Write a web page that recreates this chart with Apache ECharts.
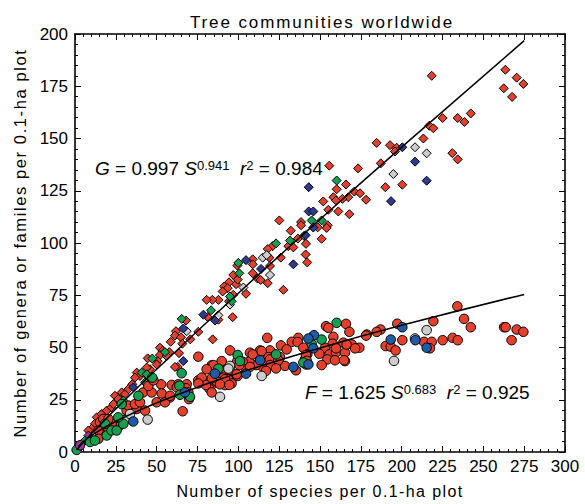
<!DOCTYPE html>
<html><head><meta charset="utf-8">
<script src="https://cdn.jsdelivr.net/npm/echarts@6/dist/echarts.min.js"></script>
<style>html,body{margin:0;padding:0;background:#fff}#c{width:585px;height:504px}</style>
</head><body><div id="c"></div>
<script>
// ---- data ----
var xTicks = [0,25,50,75,100,125,150,175,200,225,250,275,300];
var yTicks = [0,25,50,75,100,125,150,175,200];

// Genera (diamonds)
var genRed = [[218.4,180.0],[263.5,182.9],[270.4,179.1],[274.5,176.1],[262.5,174.0],[267.6,169.9],[242.3,162.0],[225.1,159.8],[234.3,159.8],[238.4,157.9],[216.9,156.1],[219.4,154.9],[213.3,150.0],[231.0,143.0],[234.3,140.0],[200.4,127.9],
[184.7,147.9],[192.9,146.8],[196.9,145.6],[195.9,143.8],[155.7,137.0],[173.3,135.7],[187.2,138.1],[190.0,126.7],[165.9,128.0],[160.2,125.7],[171.0,124.6],[174.5,123.8],[167.3,121.9],[158.2,121.9],[163.7,121.1],[159.8,120.3],[178.2,120.7],[152.0,119.9],[155.1,115.9],[161.2,115.1],[168.0,113.8],[125.1,110.8],[138.4,110.0],[148.6,107.5],[154.7,108.5],[154.1,107.2],[138.4,108.5],[132.1,105.9],[136.5,102.1],[151.0,102.0],[121.0,98.5],[130.6,98.5],[141.4,99.6],[133.7,97.9],[118.0,97.1],[119.0,93.0],[126.0,93.0],[141.2,94.5],[108.8,92.2],[108.8,89.8],[99.4,89.2],[142.2,90.7],[119.4,89.0],[108.8,85.5],[96.9,84.7],[111.6,83.1],[113.7,82.3],[118.0,80.8],[98.6,80.3],[104.7,75.7],[127.6,77.6],[96.9,75.2],[96.5,64.5],
[99.6,82.5],[94.3,81.2],[91.4,79.2],[93.5,78.4],[90.4,76.8],[94.3,72.1],[87.8,72.8],[84.1,72.8],[80.6,72.8],[81.2,64.6],[87.8,63.3],[68.0,62.9],[75.5,57.5],[84.3,53.9],[61.8,57.8],[61.2,55.7],[64.9,54.9],[70.6,53.9],[58.6,52.7],[65.7,51.8],[52.0,49.9],[53.5,48.3],[57.7,47.8],[63.7,47.3],[52.0,46.4],[56.1,45.9],[44.5,44.8],[50.6,43.5],[50.0,41.9],[62.9,40.7],[61.2,40.7],[45.9,39.6],[43.9,40.4],[37.8,38.0],[39.8,36.4],[45.3,35.6],[36.7,35.6],[35.1,32.4],
[17.3,8.7],[15.3,15.0],[13.3,16.6],[12.2,13.5],[16.3,18.2],[19.4,19.8],[22.4,21.4],[23.5,22.9],[28.6,28.5],[30.6,27.7],[32.7,30.1],[10.2,11.1],[8.2,10.3],[4.1,4.0],[2.0,2.4],[24.5,26.9],[26.5,25.3]];
var genGreen = [[160.2,129.9],[144.9,110.8],[151.0,110.8],[140.2,103.4],[131.6,101.2],[123.1,99.8],[100.6,85.5],[95.9,72.1],[100.0,90.5],[94.9,74.4],[83.3,67.8],[65.3,63.7],[55.1,47.8],[47.3,44.7],[40.8,38.0],[43.9,37.2],[42.9,33.3],[29.6,24.6],[6.1,5.5]];
var genBlue = [[200.4,145.8],[208.2,138.9],[215.3,129.8],[193.5,120.0],[143.1,126.7],[143.1,115.1],[145.9,115.1],[145.9,107.4],[141.2,103.7],[104.7,91.8],[133.7,89.8],[113.9,87.6],[78.6,65.7],[85.7,62.9],[66.3,59.1],[66.3,43.5],[35.7,30.9]];
var genGrey = [[208.2,145.8],[215.3,142.9],[194.9,133.0],[114.9,93.0],[117.4,94.2],[119.4,84.7],[103.1,78.7],[94.9,70.5],[87.8,65.4],[68.4,57.8]];
var genPurple = [[8.2,7.9]];

// Families (circles)
var famRed = [[75.5,45.6],[94.9,48.6],[83.7,41.5],[89.4,42.4],[99.4,43.5],[88.2,39.6],[91.8,38.8],[95.9,38.0],[90.8,35.6],[95.9,34.8],[99.6,36.4],[75.5,34.3],[78.6,33.3],[52.7,32.4],[59.2,32.1],[63.3,32.4],[68.4,32.4],[83.7,32.0],[91.8,32.0],
[165.9,61.3],[168.0,57.5],[153.7,60.2],[158.2,55.1],[178.6,56.2],[136.7,54.6],[132.7,52.7],[136.3,52.6],[117.7,54.6],[153.1,49.9],[157.8,51.8],[164.3,52.3],[169.4,51.5],[174.1,49.9],[139.8,49.9],[126.1,51.0],[129.6,49.1],[119.4,48.6],[113.3,48.6],[107.1,47.5],[118.4,45.4],[142.2,46.7],[140.8,44.3],[149.6,47.0],[155.7,46.7],[159.8,47.5],[165.3,47.5],[154.5,44.3],[159.2,43.9],[165.3,43.5],[151.0,41.6],[141.4,41.9],[135.3,39.1],[128.6,41.2],[125.5,45.4],[119.4,44.3],[124.5,43.9],[119.4,41.6],[123.1,40.0],[114.3,41.2],[110.8,41.6],[116.9,38.8],[106.7,43.2],[102.6,43.2],[104.7,39.6],[107.1,40.7],[100.6,41.6],[99.0,37.2],[93.9,34.8],[95.9,32.8],[89.8,43.5],[84.7,41.6],[80.6,39.6],[91.8,34.8],[86.7,33.7],[88.8,32.4],[94.5,32.1],[83.7,35.3],[77.6,35.6],[82.2,30.4],[80.2,32.0],[83.7,28.5],[75.5,32.8],[68.0,30.5],[62.3,30.9],[65.9,19.5],[69.4,28.5],[58.2,26.1],
[234.1,69.7],[238.2,63.7],[242.3,59.7],[262.7,59.7],[263.7,59.7],[270.4,58.6],[274.5,57.5],[267.3,53.5],[219.4,62.6],[197.3,61.4],[187.1,58.6],[184.7,57.5],[178.2,55.7],[200.4,53.5],[213.7,52.7],[218.4,52.7],[225.1,53.5],[231.2,54.6],[234.3,53.5],[190.2,50.7],[193.3,50.4],[196.3,48.6],[217.3,49.6],[171.5,49.6],
[155.1,59.4],[141.4,46.4],[141.9,43.6],[164.7,43.9],[159.8,49.6],[166.3,51.4],
[26.5,11.9],[20.4,11.1],[14.3,10.3],[14.3,6.3],[22.4,13.5],[15.3,14.3],[17.3,15.8],[20.4,15.8],[31.6,19.8],[32.7,22.2],[37.8,20.6],[36.7,22.9],[39.8,23.8],[42.9,19.8],[41.8,28.5],[46.9,28.5],[44.9,31.6],[50.0,23.8],[55.1,23.8],[53.1,28.0],[58.2,26.9],[48.0,34.3],[69.8,25.3],[114.3,48.3],[108.8,46.7]];
var famGreen = [[160.2,61.8],[151.0,53.8],[144.9,51.8],[99.6,46.4],[65.3,37.7],[47.3,35.6],[123.1,46.7],[139.8,42.8],[101.0,43.5],[87.8,39.9],[63.9,31.7],[64.3,27.4],[70.4,26.4],[1.0,1.0],[9.2,4.8],[12.2,5.5],[19.4,7.9],[22.4,10.3],[25.5,10.3],[29.6,13.5],[18.4,13.5],[26.5,16.6],[28.6,22.9],[38.8,26.9]];
var famBlue = [[146.3,55.9],[142.9,54.3],[145.9,49.6],[133.7,40.7],[113.3,43.9],[104.7,37.5],[85.7,37.5],[35.7,14.6],[67.3,28.5],[200.4,59.7],[193.3,53.8],[208.4,53.5],[215.3,49.9],[142.9,41.9]];
var famGrey = [[94.9,41.2],[114.3,36.4],[93.9,39.9],[88.8,26.4],[44.5,15.5],[30.6,15.3],[33.7,18.2],[215.3,58.3],[208.2,54.3],[195.3,43.6]];
var famPurple = [[3.1,3.2]];

// fitted lines (values of the printed fits)
var fitGx = [1,5,10,25,50,100,150,200,275];
var fitGy = [1.0,4.53,8.70,20.62,39.58,75.98,111.3,145.9,196.8];
var fitFx = [2,5,10,20,35,50,75,100,150,200,275];
var fitFy = [2.61,4.88,7.83,12.57,18.43,23.51,31.01,37.74,49.79,60.60,75.4];

var title = 'Tree communities worldwide';
var xName = 'Number of species per 0.1-ha plot';
var yName = 'Number of genera or familes per 0.1-ha plot';

// ---- chart ----
var FONT = '"Liberation Sans", Arial, sans-serif';
var RED='#e4402c', GREEN='#14a050', BLUE_C='#1f5ca8', BLUE_D='#2c3a96', GREY='#cdcdcd', PURPLE='#a2339e';
function zip(a,b){return a.map(function(v,i){return [v,b[i]];});}
function sc(name,data,color,symbol,size){
  return {type:'scatter',name:name,data:data,symbol:symbol,symbolSize:size,
    itemStyle:{color:color,borderColor:'#000',borderWidth:1,opacity:1},
    emphasis:{disabled:true},silent:true,animation:false};
}
var axisCommon = {
  min:0, interval:25, axisLine:{show:true,onZero:false,lineStyle:{color:'#000',width:1.6}},
  axisTick:{show:true,inside:true,length:6,lineStyle:{color:'#000',width:1}},
  minorTick:{show:true,splitNumber:5,length:3,lineStyle:{color:'#000',width:1}},
  splitLine:{show:false}
};
function ax(extra){return Object.assign({},JSON.parse(JSON.stringify(axisCommon)),extra);}
var chart = echarts.init(document.getElementById('c'),null,{renderer:'svg'});
var rich = {i:{fontStyle:'italic',fontFamily:FONT,fontSize:19,fill:'#000'},
            n:{fontFamily:FONT,fontSize:19,fill:'#000'},
            s:{fontFamily:FONT,fontSize:13,fill:'#000',verticalAlign:'top'}};
chart.setOption({
  backgroundColor:'#fff',
  animation:false,
  title:{text:title,left:317,textAlign:'center',top:9,textStyle:{fontFamily:FONT,fontSize:17,fontWeight:'normal',color:'#000'}},
  grid:{left:75,right:20,top:34,bottom:49,containLabel:false},
  xAxis:[
    ax({type:'value',position:'bottom',max:300,name:xName,nameLocation:'middle',nameGap:31,
      nameTextStyle:{fontFamily:FONT,fontSize:16,color:'#000'},
      axisLabel:{show:true,fontFamily:FONT,fontSize:17,color:'#000',margin:6,
        formatter:function(v){return xTicks.indexOf(v)>=0?String(v):'';}}}),
    ax({type:'value',position:'top',max:300,axisLabel:{show:false}})
  ],
  yAxis:[
    ax({type:'value',position:'left',max:200,name:yName,nameLocation:'middle',nameGap:45,
      nameTextStyle:{fontFamily:FONT,fontSize:16.5,color:'#000'},
      axisLabel:{show:true,fontFamily:FONT,fontSize:17,color:'#000',margin:7,
        formatter:function(v){return yTicks.indexOf(v)>=0?String(v):'';}}}),
    ax({type:'value',position:'right',max:200,axisLabel:{show:false}})
  ],
  series:[
    sc('genRed',genRed,RED,'diamond',9),
    sc('genGrey',genGrey,GREY,'diamond',9),
    sc('genGreen',genGreen,GREEN,'diamond',9),
    sc('genBlue',genBlue,BLUE_D,'diamond',9),
    sc('genPurple',genPurple,PURPLE,'diamond',9),
    sc('famRed',famRed,RED,'circle',9.5),
    sc('famGrey',famGrey,GREY,'circle',9.5),
    sc('famGreen',famGreen,GREEN,'circle',9.5),
    sc('famBlue',famBlue,BLUE_C,'circle',9.5),
    sc('famPurple',famPurple,PURPLE,'circle',9.5),
    {type:'line',data:zip(fitGx,fitGy),showSymbol:false,symbol:'none',smooth:true,lineStyle:{color:'#000',width:1.5},silent:true,z:5},
    {type:'line',data:zip(fitFx,fitFy),showSymbol:false,symbol:'none',smooth:true,lineStyle:{color:'#000',width:1.5},silent:true,z:5}
  ],
  graphic:[
    {type:'text',left:95,top:159,z:10,style:{rich:rich,
      text:'{i|G}{n| = 0.997 }{i|S}{s|0.941}{n|  }{i|r}{s|2}{n| = 0.984}'}},
    {type:'text',left:305,top:383,z:10,style:{rich:rich,
      text:'{i|F}{n| = 1.625 }{i|S}{s|0.683}{n|  }{i|r}{s|2}{n| = 0.925}'}}
  ]
});
// letter tracking for title and axis names (as in the reference)
var spacing = {}; spacing[title]='1.9px'; spacing[xName]='1.4px'; spacing[yName]='1.6px';
document.querySelectorAll('#c text').forEach(function(t){
  var s = t.textContent;
  if (spacing[s]) t.style.letterSpacing = spacing[s];
});
</script></body></html>
